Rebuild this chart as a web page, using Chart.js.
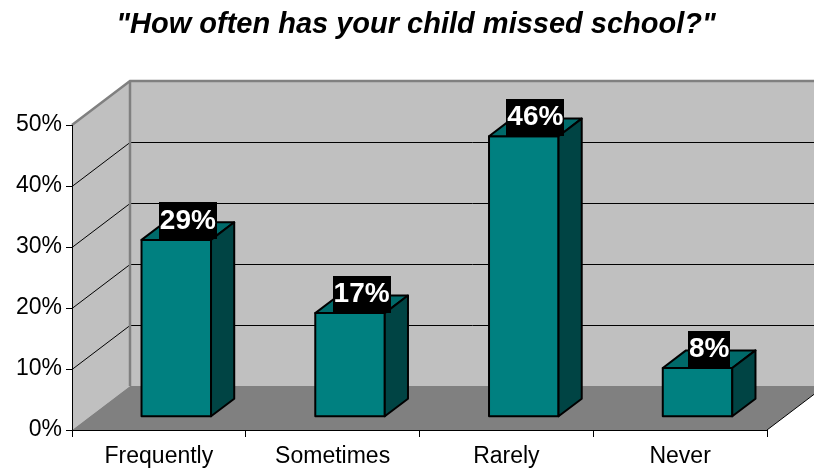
<!DOCTYPE html>
<html>
<head>
<meta charset="utf-8">
<script src="https://cdn.jsdelivr.net/npm/chart.js@4.4.1/dist/chart.umd.min.js"></script>
<style>
  html, body { margin: 0; padding: 0; background: #ffffff; }
  #wrap { width: 814px; height: 470px; }
</style>
</head>
<body>
<div id="wrap"><canvas id="chartCanvas"></canvas></div>
<script>
const title_text = '"How often has your child missed school?"';
const categories = ["Frequently", "Sometimes", "Rarely", "Never"];
const shares = [29, 17, 46, 8];          // % of answers
const y_ticks = [0, 10, 20, 30, 40, 50];

const FONT = "'Liberation Sans', Arial, sans-serif";
const DEPTH = {x: 58, y: -44};           // oblique offset front plane -> back wall
const BAR_FRONT = 0.3, BAR_BACK = 0.7;   // where the bars sit inside the depth
const COLORS = {wall: "#c0c0c0", floor: "#808080", edge: "#808080",
                front: "#008080", top: "#006a6a", side: "#004444"};

function poly(ctx, pts, fill, stroke) {
    ctx.beginPath();
    ctx.moveTo(pts[0][0], pts[0][1]);
    for (let i = 1; i < pts.length; i++) ctx.lineTo(pts[i][0], pts[i][1]);
    ctx.closePath();
    if (fill) { ctx.fillStyle = fill; ctx.fill(); }
    if (stroke) ctx.stroke();
}

function line(ctx, pts) {
    ctx.beginPath();
    ctx.moveTo(pts[0][0], pts[0][1]);
    for (let i = 1; i < pts.length; i++) ctx.lineTo(pts[i][0], pts[i][1]);
    ctx.stroke();
}

// back wall, side wall and floor, drawn before the axes
const wallsPlugin = {
    id: 'walls',
    beforeDraw(chart) {
        const ctx = chart.ctx;
        const a = chart.chartArea;
        const ys = chart.scales.y;
        const dx = DEPTH.x, dy = DEPTH.y;
        ctx.save();
        poly(ctx, [[a.left, a.top], [a.left + dx, a.top + dy], [a.left + dx, a.bottom + dy], [a.left, a.bottom]], COLORS.wall);
        poly(ctx, [[a.left + dx, a.top + dy], [a.right + dx, a.top + dy], [a.right + dx, a.bottom + dy], [a.left + dx, a.bottom + dy]], COLORS.wall);
        poly(ctx, [[a.left, a.bottom], [a.right, a.bottom], [a.right + dx, a.bottom + dy], [a.left + dx, a.bottom + dy]], COLORS.floor);

        // gridlines run along the side wall then across the back wall
        ctx.strokeStyle = '#000';
        ctx.lineWidth = 1;
        y_ticks.forEach(v => {
            if (v === ys.min || v === ys.max) return;
            const y = Math.round(ys.getPixelForValue(v)) + 0.5;
            line(ctx, [[a.left, y], [a.left + dx, y + dy], [a.right + dx, y + dy]]);
        });

        // wall edges
        ctx.strokeStyle = COLORS.edge;
        ctx.lineWidth = 2.5;
        line(ctx, [[a.left, a.top], [a.left + dx, a.top + dy], [a.right + dx + 10, a.top + dy]]);
        line(ctx, [[a.left + dx, a.top + dy], [a.left + dx, a.bottom + dy]]);

        ctx.strokeStyle = '#000';
        ctx.lineWidth = 1;
        line(ctx, [[a.right, a.bottom], [a.right + dx, a.bottom + dy]]);
        ctx.restore();
    }
};

// extruded bars with their value boxes
const barsPlugin = {
    id: 'bars3d',
    afterDatasetsDraw(chart) {
        const ctx = chart.ctx;
        const meta = chart.getDatasetMeta(0);
        const sx = DEPTH.x * BAR_FRONT, sy = DEPTH.y * BAR_FRONT;
        const bx = DEPTH.x * (BAR_BACK - BAR_FRONT), by = DEPTH.y * (BAR_BACK - BAR_FRONT);
        const boxes = [];
        ctx.save();
        ctx.lineWidth = 2;
        ctx.strokeStyle = '#000';
        ctx.lineJoin = 'round';
        meta.data.forEach((bar, i) => {
            const p = bar.getProps(['x', 'y', 'base', 'width'], true);
            const x0 = p.x - p.width / 2 + sx, x1 = p.x + p.width / 2 + sx;
            const yt = p.y + sy, yb = p.base + sy;
            poly(ctx, [[x0, yt], [x1, yt], [x1, yb], [x0, yb]], COLORS.front, true);
            poly(ctx, [[x0, yt], [x0 + bx, yt + by], [x1 + bx, yt + by], [x1, yt]], COLORS.top, true);
            poly(ctx, [[x1, yt], [x1 + bx, yt + by], [x1 + bx, yb + by], [x1, yb]], COLORS.side, true);
            boxes.push({x: (x0 + x1) / 2 + bx / 2, y: yt - 19.5, text: shares[i] + '%'});
        });

        ctx.font = "bold 28px " + FONT;
        ctx.textAlign = 'center';
        ctx.textBaseline = 'middle';
        boxes.forEach(b => {
            const w = ctx.measureText(b.text).width + 2;
            ctx.fillStyle = '#000';
            ctx.fillRect(Math.round(b.x - w / 2), Math.round(b.y - 18), Math.round(w), 37);
            ctx.fillStyle = '#fff';
            ctx.fillText(b.text, b.x, b.y + 1);
        });
        ctx.restore();
    }
};

// chart heading, a touch right of the canvas centre
const headingPlugin = {
    id: 'heading',
    afterDraw(chart) {
        const ctx = chart.ctx;
        ctx.save();
        ctx.font = "italic bold 29px " + FONT;
        ctx.fillStyle = '#000';
        ctx.textAlign = 'center';
        ctx.textBaseline = 'alphabetic';
        ctx.fillText(title_text, 416, 33);
        ctx.restore();
    }
};

new Chart(document.getElementById('chartCanvas').getContext('2d'), {
    type: 'bar',
    data: {
        labels: categories,
        datasets: [{
            data: shares,
            backgroundColor: 'rgba(0,0,0,0)',
            borderWidth: 0,
            barPercentage: 0.4,
            categoryPercentage: 1.0
        }]
    },
    options: {
        responsive: true,
        maintainAspectRatio: false,
        animation: false,
        events: [],
        layout: { padding: { left: 0, right: 47, top: 125, bottom: 0 } },
        plugins: {
            legend: { display: false },
            tooltip: { enabled: false },
            title: { display: false }
        },
        scales: {
            x: {
                grid: { offset: true, drawOnChartArea: false, drawTicks: true, tickLength: 7, color: '#000' },
                border: { display: true, color: '#000', width: 1 },
                ticks: { color: '#000', font: { family: FONT, size: 23 }, padding: 6, maxRotation: 0 },
                afterFit: (scale) => { scale.height = 40; }
            },
            y: {
                min: 0,
                max: 50,
                grid: { drawOnChartArea: false, drawTicks: true, tickLength: 6, color: '#000' },
                border: { display: true, color: '#000', width: 1 },
                ticks: {
                    stepSize: 10,
                    color: '#000',
                    padding: 4,
                    font: { family: FONT, size: 23 },
                    callback: (v) => v + '%'
                },
                afterFit: (scale) => { scale.width = 72; }
            }
        }
    },
    plugins: [wallsPlugin, barsPlugin, headingPlugin]
});
</script>
</body>
</html>
